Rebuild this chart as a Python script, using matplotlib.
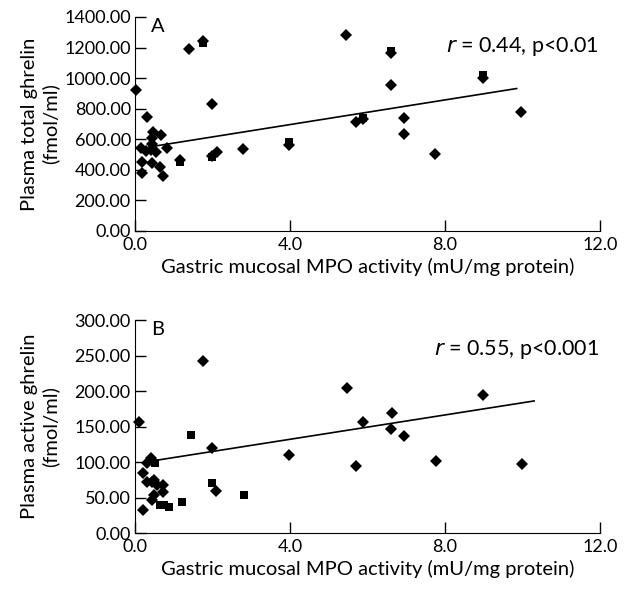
from matplotlib import pyplot as plt

# panel A: plasma total ghrelin vs MPO activity
a_dia_x = [0.03, 0.32, 1.40, 1.76, 5.45, 1.99, 5.70, 5.88, 0.16, 0.28, 0.18, 0.17,
           0.43, 0.42, 0.44, 0.45, 0.47, 0.54, 0.66, 0.65, 0.71, 0.82, 1.16, 2.11,
           2.80, 6.61, 6.61, 6.95, 6.95, 7.74, 9.96, 1.98, 3.97, 8.99]
a_dia_y = [923, 748, 1191, 1245, 1285, 834, 715, 730, 540, 526, 452, 380,
           445, 530, 570, 610, 645, 515, 625, 419, 362, 540, 462, 518,
           538, 1163, 954, 741, 636, 505, 778, 490, 563, 1000]
a_sq_x = [1.76, 6.61, 1.16, 5.88, 1.98, 3.97, 8.99]
a_sq_y = [1230, 1180, 450, 740, 485, 585, 1018]

# panel B: plasma active ghrelin vs MPO activity
b_dia_x = [0.11, 1.76, 2.00, 0.21, 0.20, 0.32, 0.41, 0.32, 0.43, 0.49, 0.57, 0.72,
           0.49, 0.45, 0.72, 2.09, 3.98, 5.46, 5.70, 5.89, 6.62, 6.60, 6.95,
           7.76, 8.99, 9.98]
b_dia_y = [157, 242, 120, 33, 85, 99, 105, 72, 72, 74, 67, 67,
           54, 46, 58, 59, 110, 204, 94, 157, 169, 147, 137,
           101, 195, 97]
b_sq_x = [0.52, 1.45, 0.65, 0.76, 0.88, 1.21, 2.00, 2.82]
b_sq_y = [99, 137.6, 39, 39, 36, 43.5, 70, 54]

# regression lines
a_line_x = [0.5, 9.85]
a_line_y = [555, 932]
b_line_x = [0.5, 10.3]
b_line_y = [102, 186]

plt.rcParams['font.family'] = ['Lato', 'DejaVu Sans']
fs_tick = 13
fs_lab = 14.5

fig = plt.figure(figsize=(6.27, 5.9), dpi=100)
axA = fig.add_axes([0.2153, 0.6085, 0.7416, 0.3627])
axB = fig.add_axes([0.2153, 0.0966, 0.7416, 0.3610])

panels = [
    (axA, a_dia_x, a_dia_y, a_sq_x, a_sq_y, a_line_x, a_line_y, 1400, 200,
     'A', 'Plasma total ghrelin\n(fmol/ml)', '0.44, p<0.01'),
    (axB, b_dia_x, b_dia_y, b_sq_x, b_sq_y, b_line_x, b_line_y, 300, 50,
     'B', 'Plasma active ghrelin\n(fmol/ml)', '0.55, p<0.001'),
]

for ax, dx, dy, sx, sy, lx, ly, ymax, ystep, tag, ylab, stat in panels:
    ax.plot(lx, ly, color='black', lw=1.2)
    ax.plot(dx, dy, 'D', color='black', ms=6.5, mew=0, clip_on=False)
    ax.plot(sx, sy, 's', color='black', ms=6, mew=0, clip_on=False)
    ax.set_xlim(0, 12)
    ax.set_ylim(0, ymax)
    xt = [0, 4, 8, 12]
    ax.set_xticks(xt)
    ax.set_xticklabels(['%.1f' % v for v in xt], fontsize=fs_tick)
    yt = list(range(0, ymax + 1, ystep))
    ax.set_yticks(yt)
    ax.set_yticklabels(['%.2f' % v for v in yt], fontsize=fs_tick)
    ax.tick_params(direction='in', length=8, width=1, pad=3)
    ax.tick_params(axis='x', pad=4)
    ax.spines['top'].set_visible(False)
    ax.spines['right'].set_visible(False)
    ax.set_xlabel('Gastric mucosal MPO activity (mU/mg protein)', fontsize=fs_lab, labelpad=4)
    ax.set_ylabel(ylab, fontsize=fs_lab, linespacing=1.25)
    ax.yaxis.set_label_coords(-0.163, 0.5)
    ax.text(0.035, 0.995, tag, transform=ax.transAxes, fontsize=fs_lab, va='top')
    ax.text(0.997, 0.86, r'$\it{r}$ = ' + stat, transform=ax.transAxes,
            fontsize=15.5, ha='right', va='center')

plt.savefig('out.png', dpi=100)
